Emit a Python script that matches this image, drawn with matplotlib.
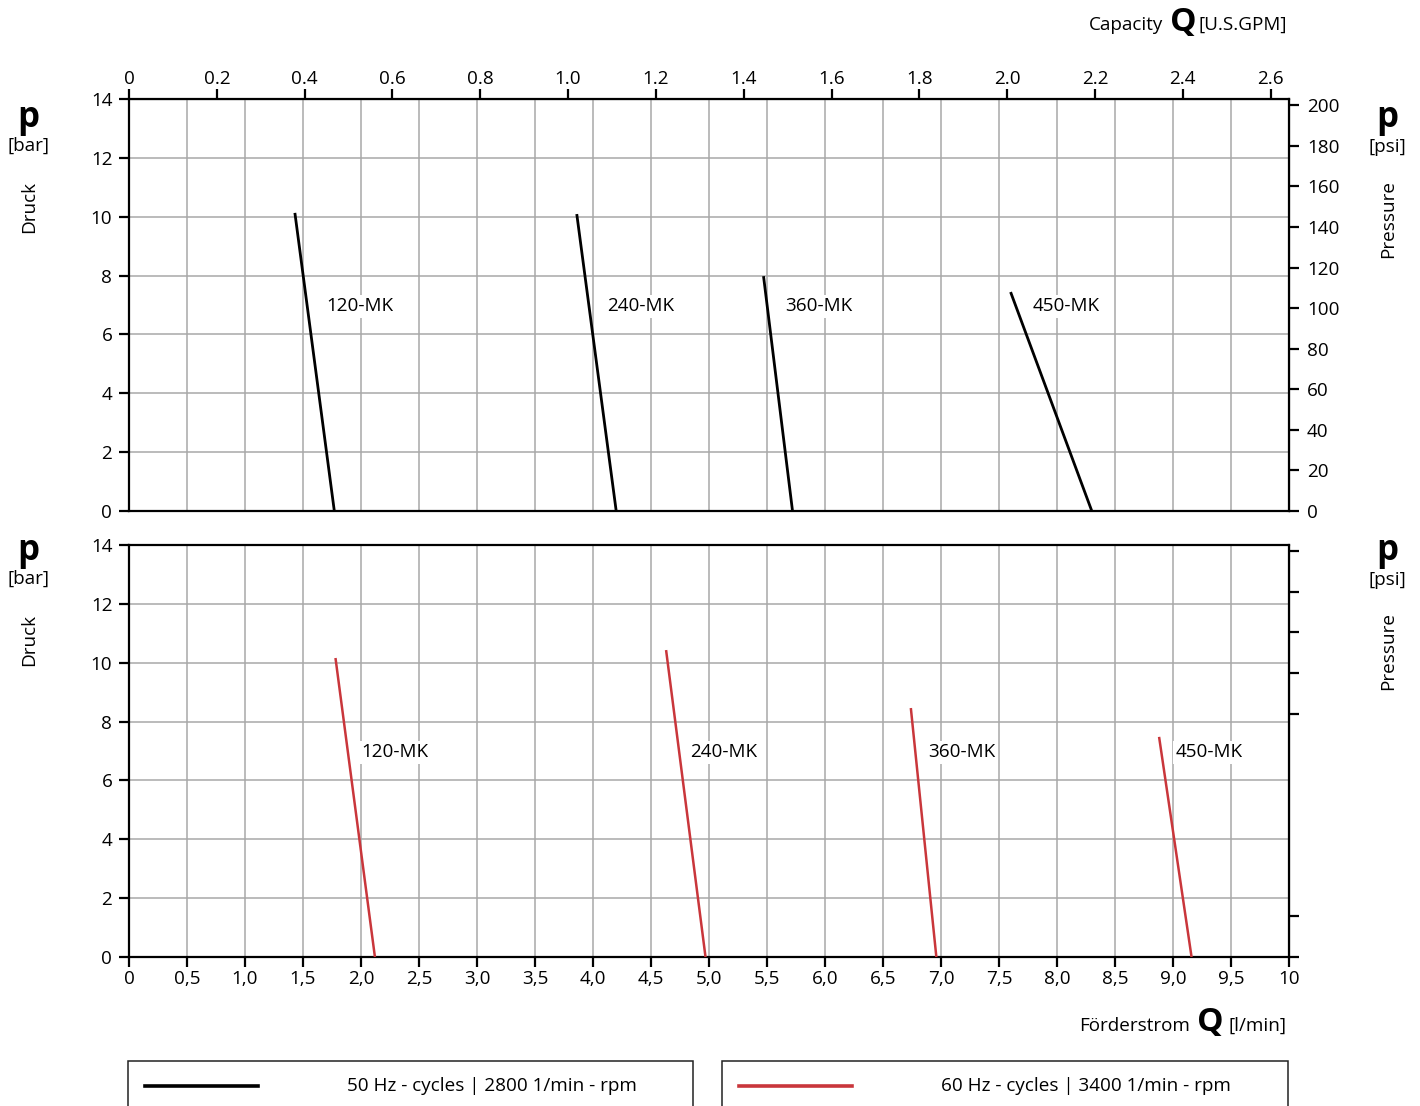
import matplotlib
matplotlib.use("Agg")
import matplotlib.pyplot as plt
from matplotlib.patches import Rectangle
from matplotlib.lines import Line2D

plt.rcParams['font.family'] = ['Open Sans', 'DejaVu Sans']

W, H = 1420, 1106
BAR_TO_PSI = 14.5038
LPM_PER_GPM = 3.78541

models = ['120-MK', '240-MK', '360-MK', '450-MK']

# 50 Hz curves (black): start point (q, p) down to p = 0
q50_start = [1.43, 3.86, 5.47, 7.60]
p50_start = [10.13, 10.09, 7.98, 7.44]
q50_end = [1.77, 4.20, 5.72, 8.30]

# 60 Hz curves (red)
q60_start = [1.78, 4.63, 6.74, 8.88]
p60_start = [10.16, 10.43, 8.46, 7.48]
q60_end = [2.12, 4.97, 6.96, 9.16]

# label anchor points (q, p)
lab50_q = [1.70, 4.12, 5.66, 7.79]
lab60_q = [2.00, 4.84, 6.89, 9.02]
lab_p = 6.95

x_ticks = [i * 0.5 for i in range(21)]
x_labels = ['0'] + [f'{v:.1f}'.replace('.', ',') for v in x_ticks[1:-1]] + ['10']
y_ticks = [0, 2, 4, 6, 8, 10, 12, 14]
gpm_ticks = [i * 0.2 for i in range(14)]
gpm_labels = ['0'] + [f'{v:.1f}' for v in gpm_ticks[1:]]
psi_ticks = [0, 20, 40, 60, 80, 100, 120, 140, 160, 180, 200]
psi_ticks_lower = [0, 20, 120, 140, 160, 180, 200]

red = '#c9363b'
grid_c = '#a8a8a8'
FS = 13.6


def fx(px):
    return px / W


def fy(py):
    return 1 - py / H


fig = plt.figure(figsize=(W / 100, H / 100), dpi=100)
ax1 = fig.add_axes([fx(129), fy(511), fx(1289) - fx(129), fy(99) - fy(511)])
ax2 = fig.add_axes([fx(129), fy(957), fx(1289) - fx(129), fy(545) - fy(957)])


def style(ax):
    ax.set_xlim(0, 10)
    ax.set_ylim(0, 14)
    ax.set_xticks(x_ticks)
    ax.set_yticks(y_ticks)
    ax.set_yticklabels([str(v) for v in y_ticks], fontsize=FS)
    ax.grid(True, color=grid_c, linewidth=1.1)
    ax.set_axisbelow(True)
    for s in ax.spines.values():
        s.set_linewidth(1.6)
        s.set_color('black')
    ax.tick_params(axis='both', direction='out', length=7, width=1.6, pad=5, labelsize=FS)
    ax.tick_params(axis='x', pad=2)


style(ax1)
style(ax2)
ax1.tick_params(axis='x', bottom=False, labelbottom=False)
ax2.set_xticklabels(x_labels, fontsize=FS)

for i in range(len(models)):
    ax1.plot([q50_start[i], q50_end[i]], [p50_start[i], 0], color='black', lw=2.0,
             solid_capstyle='butt', zorder=3)
    ax1.text(lab50_q[i], lab_p, models[i], fontsize=FS, ha='left', va='center',
             bbox=dict(facecolor='white', edgecolor='none', pad=1.5), zorder=4)
    ax2.plot([q60_start[i], q60_end[i]], [p60_start[i], 0], color=red, lw=1.8,
             solid_capstyle='butt', zorder=3)
    ax2.text(lab60_q[i], lab_p, models[i], fontsize=FS, ha='left', va='center',
             bbox=dict(facecolor='white', edgecolor='none', pad=1.5), zorder=4)

# secondary scales
top = ax1.secondary_xaxis('top', functions=(lambda q: q / LPM_PER_GPM, lambda g: g * LPM_PER_GPM))
top.set_xticks(gpm_ticks)
top.set_xticklabels(gpm_labels, fontsize=FS)
top.tick_params(direction='out', length=7, width=1.6, pad=1)

r1 = ax1.secondary_yaxis('right', functions=(lambda b: b * BAR_TO_PSI, lambda s: s / BAR_TO_PSI))
r1.set_yticks(psi_ticks)
r1.set_yticklabels([str(v) for v in psi_ticks], fontsize=FS)
r1.tick_params(direction='out', length=7, width=1.6, pad=6)

r2 = ax2.secondary_yaxis('right', functions=(lambda b: b * BAR_TO_PSI, lambda s: s / BAR_TO_PSI))
r2.set_yticks(psi_ticks_lower)
r2.set_yticklabels([])
r2.tick_params(direction='out', length=7, width=1.6)

# side labels
for top_px in (118, 551):
    fig.text(fx(28), fy(top_px), 'p', fontsize=25, fontweight='bold', ha='center', va='center')
    fig.text(fx(28), fy(top_px + 28), '[bar]', fontsize=FS, ha='center', va='center')
    fig.text(fx(1387), fy(top_px), 'p', fontsize=25, fontweight='bold', ha='center', va='center')
    fig.text(fx(1387), fy(top_px + 29), '[psi]', fontsize=FS, ha='center', va='center')
fig.text(fx(29), fy(207), 'Druck', fontsize=FS, rotation=90, ha='center', va='center')
fig.text(fx(29), fy(640), 'Druck', fontsize=FS, rotation=90, ha='center', va='center')
fig.text(fx(1388), fy(219), 'Pressure', fontsize=FS, rotation=90, ha='center', va='center')
fig.text(fx(1388), fy(651), 'Pressure', fontsize=FS, rotation=90, ha='center', va='center')

# axis titles
fig.text(fx(1287), fy(25), '[U.S.GPM]', fontsize=FS, ha='right', va='center')
fig.text(fx(1197), fy(22), 'Q', fontsize=24, fontweight='bold', ha='right', va='center')
fig.text(fx(1163), fy(25), 'Capacity', fontsize=FS, ha='right', va='center')
fig.text(fx(1287), fy(1026), '[l/min]', fontsize=FS, ha='right', va='center')
fig.text(fx(1224), fy(1022), 'Q', fontsize=24, fontweight='bold', ha='right', va='center')
fig.text(fx(1190), fy(1026), 'Förderstrom', fontsize=FS, ha='right', va='center')

# legend boxes
legend_items = [
    ('50 Hz - cycles | 2800 1/min - rpm', 'black', 128, 693),
    ('60 Hz - cycles | 3400 1/min - rpm', red, 722, 1288),
]
for label, col, x0, x1 in legend_items:
    fig.patches.append(Rectangle((fx(x0), fy(1120)), fx(x1) - fx(x0), fy(1061) - fy(1120),
                                 transform=fig.transFigure, fill=False,
                                 edgecolor='#222222', linewidth=1.1))
    fig.lines.append(Line2D([fx(x0 + 17), fx(x0 + 130)], [fy(1086), fy(1086)],
                            transform=fig.transFigure, color=col, lw=2.6))
    fig.text(fx(x0 + 364), fy(1086), label, fontsize=FS, ha='center', va='center')

fig.savefig('out.png', dpi=100)
